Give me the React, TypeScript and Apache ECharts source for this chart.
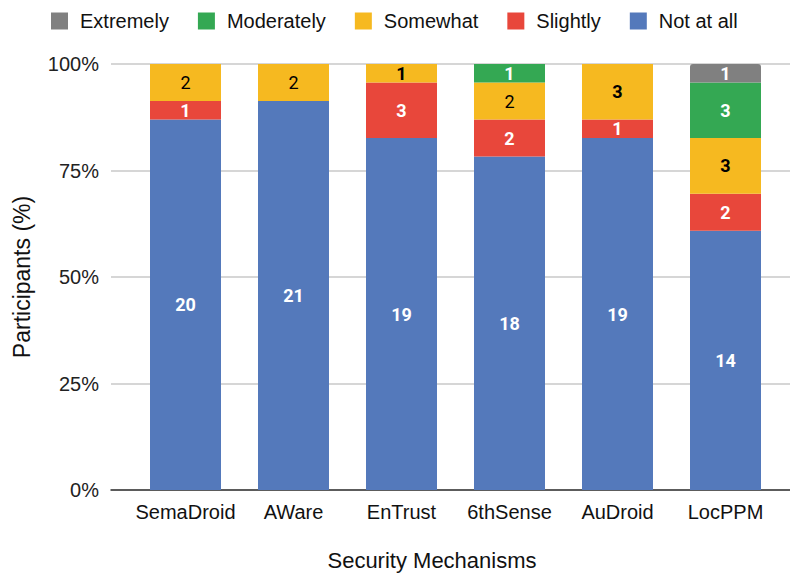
import React, { useEffect, useRef } from "react";
import * as echarts from "echarts";

const categories = ["SemaDroid", "AWare", "EnTrust", "6thSense", "AuDroid", "LocPPM"];
const notAtAll = [20, 21, 19, 18, 19, 14];
const slightly = [1, 0, 3, 2, 1, 2];
const somewhat = [2, 2, 1, 2, 3, 3];
const moderately = [0, 0, 0, 1, 0, 3];
const extremely = [0, 0, 0, 0, 0, 1];
const yTicks = [0, 25, 50, 75, 100];
const legendOrder = ["Extremely", "Moderately", "Somewhat", "Slightly", "Not at all"];

const totals = categories.map(
  (_, i) => notAtAll[i] + slightly[i] + somewhat[i] + moderately[i] + extremely[i]
);

const FONT = "Liberation Sans, Arial, sans-serif";

export default function App() {
  const ref = useRef<HTMLDivElement>(null);
  useEffect(() => {
    if (!ref.current) return;
    const chart = echarts.init(ref.current, null, { renderer: "svg" });

    const mk = (
      name: string,
      counts: number[],
      color: string,
      labelColor: string,
      boldFn: (v: number) => boolean,
      radius?: number[]
    ) => ({
      name,
      type: "bar",
      stack: "total",
      xAxisIndex: 1,
      yAxisIndex: 1,
      barWidth: 71,
      itemStyle: { color, borderRadius: radius || 0 },
      data: counts.map((c, i) => ({
        value: (c / totals[i]) * 100,
        count: c,
        label: {
          show: c > 0,
          fontWeight: boldFn(c) ? "bold" : "normal",
        },
      })),
      label: {
        show: true,
        position: "inside",
        color: labelColor,
        fontFamily: "Roboto",
        fontSize: 18,
        formatter: (p: any) => String(p.data.count),
      },
    });

    chart.setOption({
      animation: false,
      textStyle: { fontFamily: FONT },
      legend: {
        data: legendOrder,
        top: 6,
        left: 46,
        itemWidth: 17,
        itemHeight: 17,
        itemGap: 29,
        icon: "rect",
        textStyle: { fontSize: 20, color: "#111", fontFamily: FONT, padding: [0, 0, 0, 7] },
      },
      grid: [
        { left: 111, right: 0, top: 64, bottom: 86 },
        { left: 131.5, right: 10.5, top: 64, bottom: 86 },
      ],
      graphic: [
        {
          type: "text",
          x: 432,
          y: 560,
          style: {
            text: "Security Mechanisms",
            align: "center",
            verticalAlign: "middle",
            fontSize: 22,
            fontFamily: FONT,
            fill: "#111",
          },
        },
      ],
      xAxis: [
        {
          gridIndex: 0,
          type: "value",
          min: 0,
          max: 1,
          show: true,
          axisLabel: { show: false },
          axisTick: { show: false },
          splitLine: { show: false },
          axisLine: { show: true, onZero: false, lineStyle: { color: "#333", width: 1.5 } },
        },
        {
          gridIndex: 1,
          type: "category",
          data: categories,
          axisLine: { show: false },
          axisTick: { show: false },
          axisLabel: { fontSize: 20, color: "#111", margin: 12, interval: 0 },
        },
      ],
      yAxis: [
        {
          gridIndex: 0,
          type: "value",
          min: 0,
          max: 100,
          interval: 25,
          axisLabel: {
            fontSize: 20,
            color: "#222",
            margin: 12,
            formatter: (v: number) => (yTicks.includes(v) ? v + "%" : ""),
          },
          axisLine: { show: false },
          axisTick: { show: false },
          splitLine: { show: true, lineStyle: { color: "#d6d6d6", width: 2 } },
          name: "Participants (%)",
          nameLocation: "middle",
          nameGap: 78,
          nameTextStyle: { fontSize: 23, color: "#111" },
        },
        {
          gridIndex: 1,
          type: "value",
          min: 0,
          max: 100,
          show: false,
        },
      ],
      series: [
        mk("Not at all", notAtAll, "#5479bb", "#fff", () => true),
        mk("Slightly", slightly, "#e8473b", "#fff", () => true),
        mk("Somewhat", somewhat, "#f6b920", "#000", (v) => v !== 2),
        mk("Moderately", moderately, "#34a853", "#fff", () => true),
        mk("Extremely", extremely, "#808080", "#fff", () => true, [3, 3, 0, 0]),
      ],
    });
    return () => chart.dispose();
  }, []);
  return <div ref={ref} style={{ width: 790, height: 576, position: "absolute", left: 0, top: 0 }} />;
}
